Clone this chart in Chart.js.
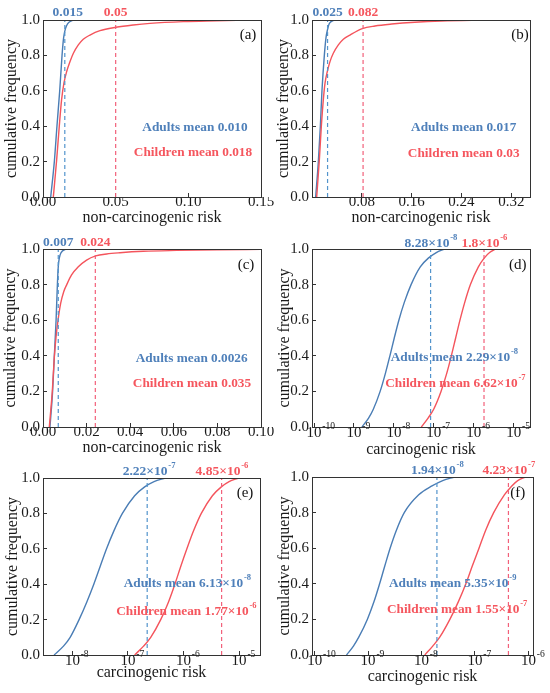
<!DOCTYPE html>
<html><head><meta charset="utf-8">
<script src="https://cdn.jsdelivr.net/npm/chart.js@4/dist/chart.umd.min.js"></script>
<style>
html,body{margin:0;padding:0;background:#fff;}
#wrap{position:relative;width:550px;height:693px;overflow:hidden;}
#wrap canvas{position:absolute;}
</style>
</head><body>
<div id="wrap">
<canvas id="pa" width="275" height="230" style="left:0;top:0"></canvas>
<canvas id="pb" width="275" height="230" style="left:275px;top:0"></canvas>
<canvas id="pc" width="275" height="230" style="left:0;top:230px"></canvas>
<canvas id="pd" width="275" height="230" style="left:275px;top:230px"></canvas>
<canvas id="pe" width="275" height="233" style="left:0;top:460px"></canvas>
<canvas id="pf" width="275" height="233" style="left:275px;top:460px"></canvas>
</div>
<script>
// ---------------- data ----------------
// (a) non-carcinogenic risk
const aAdultX = [0.0053,0.0078,0.0096,0.0115,0.0131,0.0142,0.0154,0.0170,0.0209];
const aAdultY = [0,0.2,0.4,0.6,0.8,0.9,0.95,0.98,1.0];
const aChildX = [0.0071,0.0094,0.0112,0.0128,0.0144,0.0163,0.0186,0.0209,0.0243,0.0277,0.0323,0.0392,0.0502,0.0621,0.0736,0.0965,0.1195,0.140];
const aChildY = [0,0.21,0.40,0.55,0.643,0.709,0.765,0.812,0.859,0.891,0.915,0.94,0.959,0.972,0.981,0.991,0.996,1.0];
// (b)
const bAdultX = [0.0059,0.0102,0.0134,0.0160,0.0198,0.0225,0.0252,0.0278,0.0358];
const bAdultY = [0,0.2,0.4,0.6,0.8,0.9,0.95,0.98,1.0];
const bChildX = [0.0075,0.0118,0.0150,0.0182,0.0209,0.0246,0.0289,0.0342,0.0423,0.0503,0.0610,0.0808,0.101,0.128,0.165,0.208,0.262,0.315];
const bChildY = [0,0.21,0.40,0.55,0.643,0.709,0.765,0.812,0.859,0.891,0.915,0.951,0.966,0.977,0.987,0.994,0.998,1.0];
// (c)
const cAdultX = [0.0032,0.0044,0.0052,0.0060,0.0066,0.0070,0.0075,0.0083,0.0106];
const cAdultY = [0,0.2,0.4,0.6,0.8,0.9,0.95,0.98,1.0];
const cChildX = [0.0029,0.0043,0.0052,0.0060,0.0069,0.0081,0.0095,0.0109,0.0131,0.0162,0.0200,0.0242,0.0292,0.0353,0.0460,0.0613,0.0797,0.100];
const cChildY = [0,0.206,0.394,0.507,0.60,0.694,0.76,0.80,0.854,0.90,0.938,0.961,0.972,0.979,0.987,0.992,0.996,0.998];
// (d)-(f) carcinogenic risk, shared cumulative-frequency levels
const cumY    = [0,0.05,0.1,0.2,0.3,0.4,0.5,0.6,0.7,0.8,0.9,0.95,0.98,1.0];
const dAdultX = [1.58e-9,2.32e-9,3.05e-9,4.52e-9,6.10e-9,7.94e-9,1.02e-8,1.33e-8,1.82e-8,2.69e-8,4.57e-8,7.41e-8,1.15e-7,1.82e-7];
const dChildX = [4.84e-8,7.16e-8,9.89e-8,1.51e-7,2.09e-7,2.74e-7,3.51e-7,4.50e-7,5.93e-7,8.22e-7,1.30e-6,1.84e-6,2.48e-6,3.51e-6];
const eAdultX = [4.68e-9,6.92e-9,9.12e-9,1.32e-8,1.82e-8,2.43e-8,3.16e-8,4.12e-8,5.56e-8,7.94e-8,1.32e-7,2.00e-7,2.95e-7,4.68e-7];
const eChildX = [1.32e-7,1.91e-7,2.57e-7,3.89e-7,5.37e-7,7.00e-7,8.91e-7,1.15e-6,1.51e-6,2.09e-6,3.31e-6,4.79e-6,6.61e-6,9.77e-6];
const fAdultX = [3.94e-10,5.31e-10,6.68e-10,9.66e-10,1.29e-9,1.64e-9,2.05e-9,2.58e-9,3.37e-9,4.75e-9,8.85e-9,1.57e-8,2.49e-8,4.14e-8];
const fChildX = [1.15e-8,1.62e-8,2.19e-8,3.39e-8,4.90e-8,6.76e-8,8.91e-8,1.19e-7,1.58e-7,2.24e-7,3.55e-7,4.90e-7,6.31e-7,8.71e-7];

// 95th percentile markers and labels, means
const p95Adult = [0.015,0.025,0.007,8.28e-8,2.22e-7,1.94e-8];
const p95Child = [0.05,0.082,0.024,1.8e-6,4.85e-6,4.23e-7];
const p95AdultText = ['0.015','0.025','0.007','8.28×10^-8','2.22×10^-7','1.94×10^-8'];
const p95ChildText = ['0.05','0.082','0.024','1.8×10^-6','4.85×10^-6','4.23×10^-7'];
const meanAdultText = ['0.010','0.017','0.0026','2.29×10^-8','6.13×10^-8','5.35×10^-9'];
const meanChildText = ['0.018','0.03','0.035','6.62×10^-7','1.77×10^-6','1.55×10^-7'];
const panelLetters = ['(a)','(b)','(c)','(d)','(e)','(f)'];

// ticks
const yTicks = [0,0.2,0.4,0.6,0.8,1.0];
const yTickLabels = ['0.0','0.2','0.4','0.6','0.8','1.0'];
const xTicksA = [0,0.05,0.10,0.15];           const xLabelsA = ['0.00','0.05','0.10','0.15'];
const xTicksB = [0.08,0.16,0.24,0.32];        const xLabelsB = ['0.08','0.16','0.24','0.32'];
const xTicksC = [0,0.02,0.04,0.06,0.08,0.10]; const xLabelsC = ['0.00','0.02','0.04','0.06','0.08','0.10'];
const xTicksD = [1e-10,1e-9,1e-8,1e-7,1e-6,1e-5]; const xLabelsD = ['10^-10','10^-9','10^-8','10^-7','10^-6','10^-5'];
const xTicksE = [1e-8,1e-7,1e-6,1e-5];        const xLabelsE = ['10^-8','10^-7','10^-6','10^-5'];
const xTicksF = [1e-10,1e-9,1e-8,1e-7,1e-6];  const xLabelsF = ['10^-10','10^-9','10^-8','10^-7','10^-6'];

// ---------------- styling / layout ----------------
const FONT = "'Liberation Serif','Times New Roman','DejaVu Serif',serif";
const BLUE = '#4a7db5', RED = '#f4545c';
const BLUE_D = '#5394cc', RED_D = '#f2607a';
const BLUE_T = '#4f80ba', RED_T = '#f5565e';
const AXIS = '#333333', INK = '#1a1a1a';

function pts(xs, ys){ return xs.map((x,i)=>({x:x, y:ys[i]})); }
function vline(v){ return [{x:v,y:0},{x:v,y:1}]; }

// text with an optional "^exponent" part; mode 'center' centres whole string, 'base' centres the base only
function drawText(ctx, text, cx, cy, size, bold, color, mode){
  const parts = text.split('^');
  const base = parts[0], exp = parts[1] || '';
  const w = bold ? 'bold ' : '';
  const esize = size*0.64;
  ctx.font = w + size + 'px ' + FONT;
  const bw = ctx.measureText(base).width;
  ctx.font = w + esize + 'px ' + FONT;
  const ew = exp ? ctx.measureText(exp).width : 0;
  const x0 = mode === 'base' ? cx - bw/2 : cx - (bw+ew)/2;
  ctx.fillStyle = color;
  ctx.textBaseline = 'middle';
  ctx.textAlign = 'left';
  ctx.font = w + size + 'px ' + FONT;
  ctx.fillText(base, x0, cy);
  if (exp){
    ctx.font = w + esize + 'px ' + FONT;
    ctx.fillText(exp, x0 + bw + 0.8, cy - size*0.44);
  }
}

function makeNotes(p, items){
  return {
    id: 'notes',
    afterDraw(chart){
      const {ctx, chartArea:a} = chart;
      ctx.save();
      ctx.strokeStyle = AXIS; ctx.lineWidth = 1;
      ctx.strokeRect(Math.round(a.left)+0.5, Math.round(a.top)+0.5,
                     Math.round(a.right)-Math.round(a.left), Math.round(a.bottom)-Math.round(a.top));
      const xs = chart.scales.x;
      if (p.type === 'logarithmic'){
        p.ticks.forEach((v, k) => {
          drawText(ctx, p.labels[k], xs.getPixelForValue(v), a.bottom + 6, 15, false, INK, 'base');
        });
      }
      for (const it of items){
        const x = (it.value !== undefined) ? xs.getPixelForValue(it.value) + (it.dx||0) : it.x;
        drawText(ctx, it.text, x, it.y, it.size, it.bold, it.color, 'center');
      }
      ctx.restore();
    }
  };
}

const panels = [
  {id:'pa', type:'linear', min:0, max:0.15, ticks:xTicksA, labels:xLabelsA, ad:pts(aAdultX,aAdultY), ch:pts(aChildX,aChildY),
   xt:'non-carcinogenic risk', H:230, L:43, R:261, T:20, B:197, yPad:4.2, xPad:4.1,
   adDx:3, topY:12.3, mA:[195,128], mC:[193,153], let:[248,35]},
  {id:'pb', type:'linear', min:0, max:0.35, ticks:xTicksB, labels:xLabelsB, ad:pts(bAdultX,bAdultY), ch:pts(bChildX,bChildY),
   xt:'non-carcinogenic risk', H:230, L:37, R:255, T:20, B:197, yPad:0.5, xPad:4.1,
   adDx:0, topY:12.3, mA:[188.7,128], mC:[188.7,154], let:[245,35]},
  {id:'pc', type:'linear', min:0, max:0.10, ticks:xTicksC, labels:xLabelsC, ad:pts(cAdultX,cAdultY), ch:pts(cChildX,cChildY),
   xt:'non-carcinogenic risk', H:230, L:43, R:261, T:19, B:197, yPad:3, xPad:4.1,
   adDx:0, topY:12.3, mA:[191.7,128.3], mC:[192,154], let:[246,35]},
  {id:'pd', type:'logarithmic', min:8.9e-11, max:2.55e-5, ticks:xTicksD, labels:xLabelsD, ad:pts(dAdultX,cumY), ch:pts(dChildX,cumY),
   xt:'carcinogenic risk', H:230, L:37, R:255, T:19, B:197, yPad:1.5, xPad:2.4,
   adDx:0, topY:13.3, mA:[179,127.7], mC:[180,154], let:[242.7,35]},
  {id:'pe', type:'logarithmic', min:2.96e-9, max:2.38e-5, ticks:xTicksE, labels:xLabelsE, ad:pts(eAdultX,cumY), ch:pts(eChildX,cumY),
   xt:'carcinogenic risk', H:233, L:43, R:260, T:18, B:195, yPad:4.5, xPad:12.1,
   adDx:1.5, topY:11.7, mA:[187,124], mC:[186,151.7], let:[245,33]},
  {id:'pf', type:'logarithmic', min:8.9e-11, max:1.22e-6, ticks:xTicksF, labels:xLabelsF, ad:pts(fAdultX,cumY), ch:pts(fChildX,cumY),
   xt:'carcinogenic risk', H:233, L:37, R:258, T:17, B:195, yPad:1.8, xPad:8.7,
   adDx:0, topY:11, mA:[177.3,123.3], mC:[181.7,149.3], let:[242.7,33]}
];

Chart.defaults.font.family = FONT;
Chart.defaults.color = INK;

panels.forEach((p, i) => {
  const items = [
    {value:p95Adult[i], dx:p.adDx, y:p.topY, text:p95AdultText[i], size:13.5, bold:true, color:BLUE_T},
    {value:p95Child[i], dx:0, y:p.topY, text:p95ChildText[i], size:13.5, bold:true, color:RED_T},
    {x:p.mA[0], y:p.mA[1], text:'Adults mean '+meanAdultText[i], size:13.3, bold:true, color:BLUE_T},
    {x:p.mC[0], y:p.mC[1], text:'Children mean '+meanChildText[i], size:13.3, bold:true, color:RED_T},
    {x:p.let[0], y:p.let[1], text:panelLetters[i], size:15, bold:false, color:'#111'}
  ];
  const isLog = p.type === 'logarithmic';
  new Chart(document.getElementById(p.id), {
    type: 'line',
    data: { datasets: [
      {data: vline(p95Adult[i]), borderColor: BLUE_D, borderWidth: 1.2, borderDash:[4,3], pointRadius:0},
      {data: vline(p95Child[i]), borderColor: RED_D, borderWidth: 1.2, borderDash:[4,3], pointRadius:0},
      {data: p.ch, borderColor: RED, borderWidth: 1.4, pointRadius:0, cubicInterpolationMode:'monotone'},
      {data: p.ad, borderColor: BLUE, borderWidth: 1.4, pointRadius:0, cubicInterpolationMode:'monotone'}
    ]},
    options: {
      responsive: false, animation: false, devicePixelRatio: 1, events: [],
      layout: { padding: { left: 0, top: p.T, right: 275 - p.R, bottom: 0 } },
      plugins: { legend: {display:false}, tooltip: {enabled:false} },
      scales: {
        x: {
          type: p.type, position: 'bottom', min: p.min, max: p.max, bounds: 'data',
          afterBuildTicks: s => { s.ticks = p.ticks.map(v => ({value: v})); },
          afterFit: s => { s.height = p.H - p.B; },
          grid: { display: true, drawOnChartArea: false, drawTicks: true, tickLength: -4, color: AXIS, lineWidth: 1 },
          border: { display: false },
          ticks: { font: {size: 15}, padding: 0.2, maxRotation: 0, autoSkip: false, color: INK,
                   callback: (v, idx) => isLog ? '' : p.labels[idx] },
          title: { display: true, text: p.xt, font: {size: 16, lineHeight: 1}, color: INK, padding: {top: 0, bottom: p.xPad} }
        },
        y: {
          type: 'linear', position: 'left', min: 0, max: 1, bounds: 'data',
          afterBuildTicks: s => { s.ticks = yTicks.map(v => ({value: v})); },
          afterFit: s => { s.width = p.L; },
          grid: { display: true, drawOnChartArea: false, drawTicks: true, tickLength: -4, color: AXIS, lineWidth: 1 },
          border: { display: false },
          ticks: { font: {size: 15}, padding: 7, color: INK, callback: (v, idx) => yTickLabels[idx] },
          title: { display: true, text: 'cumulative frequency', font: {size: 16, lineHeight: 1}, color: INK, padding: {top: p.yPad, bottom: 0} }
        }
      }
    },
    plugins: [makeNotes(p, items)]
  });
});
</script>
</body></html>
